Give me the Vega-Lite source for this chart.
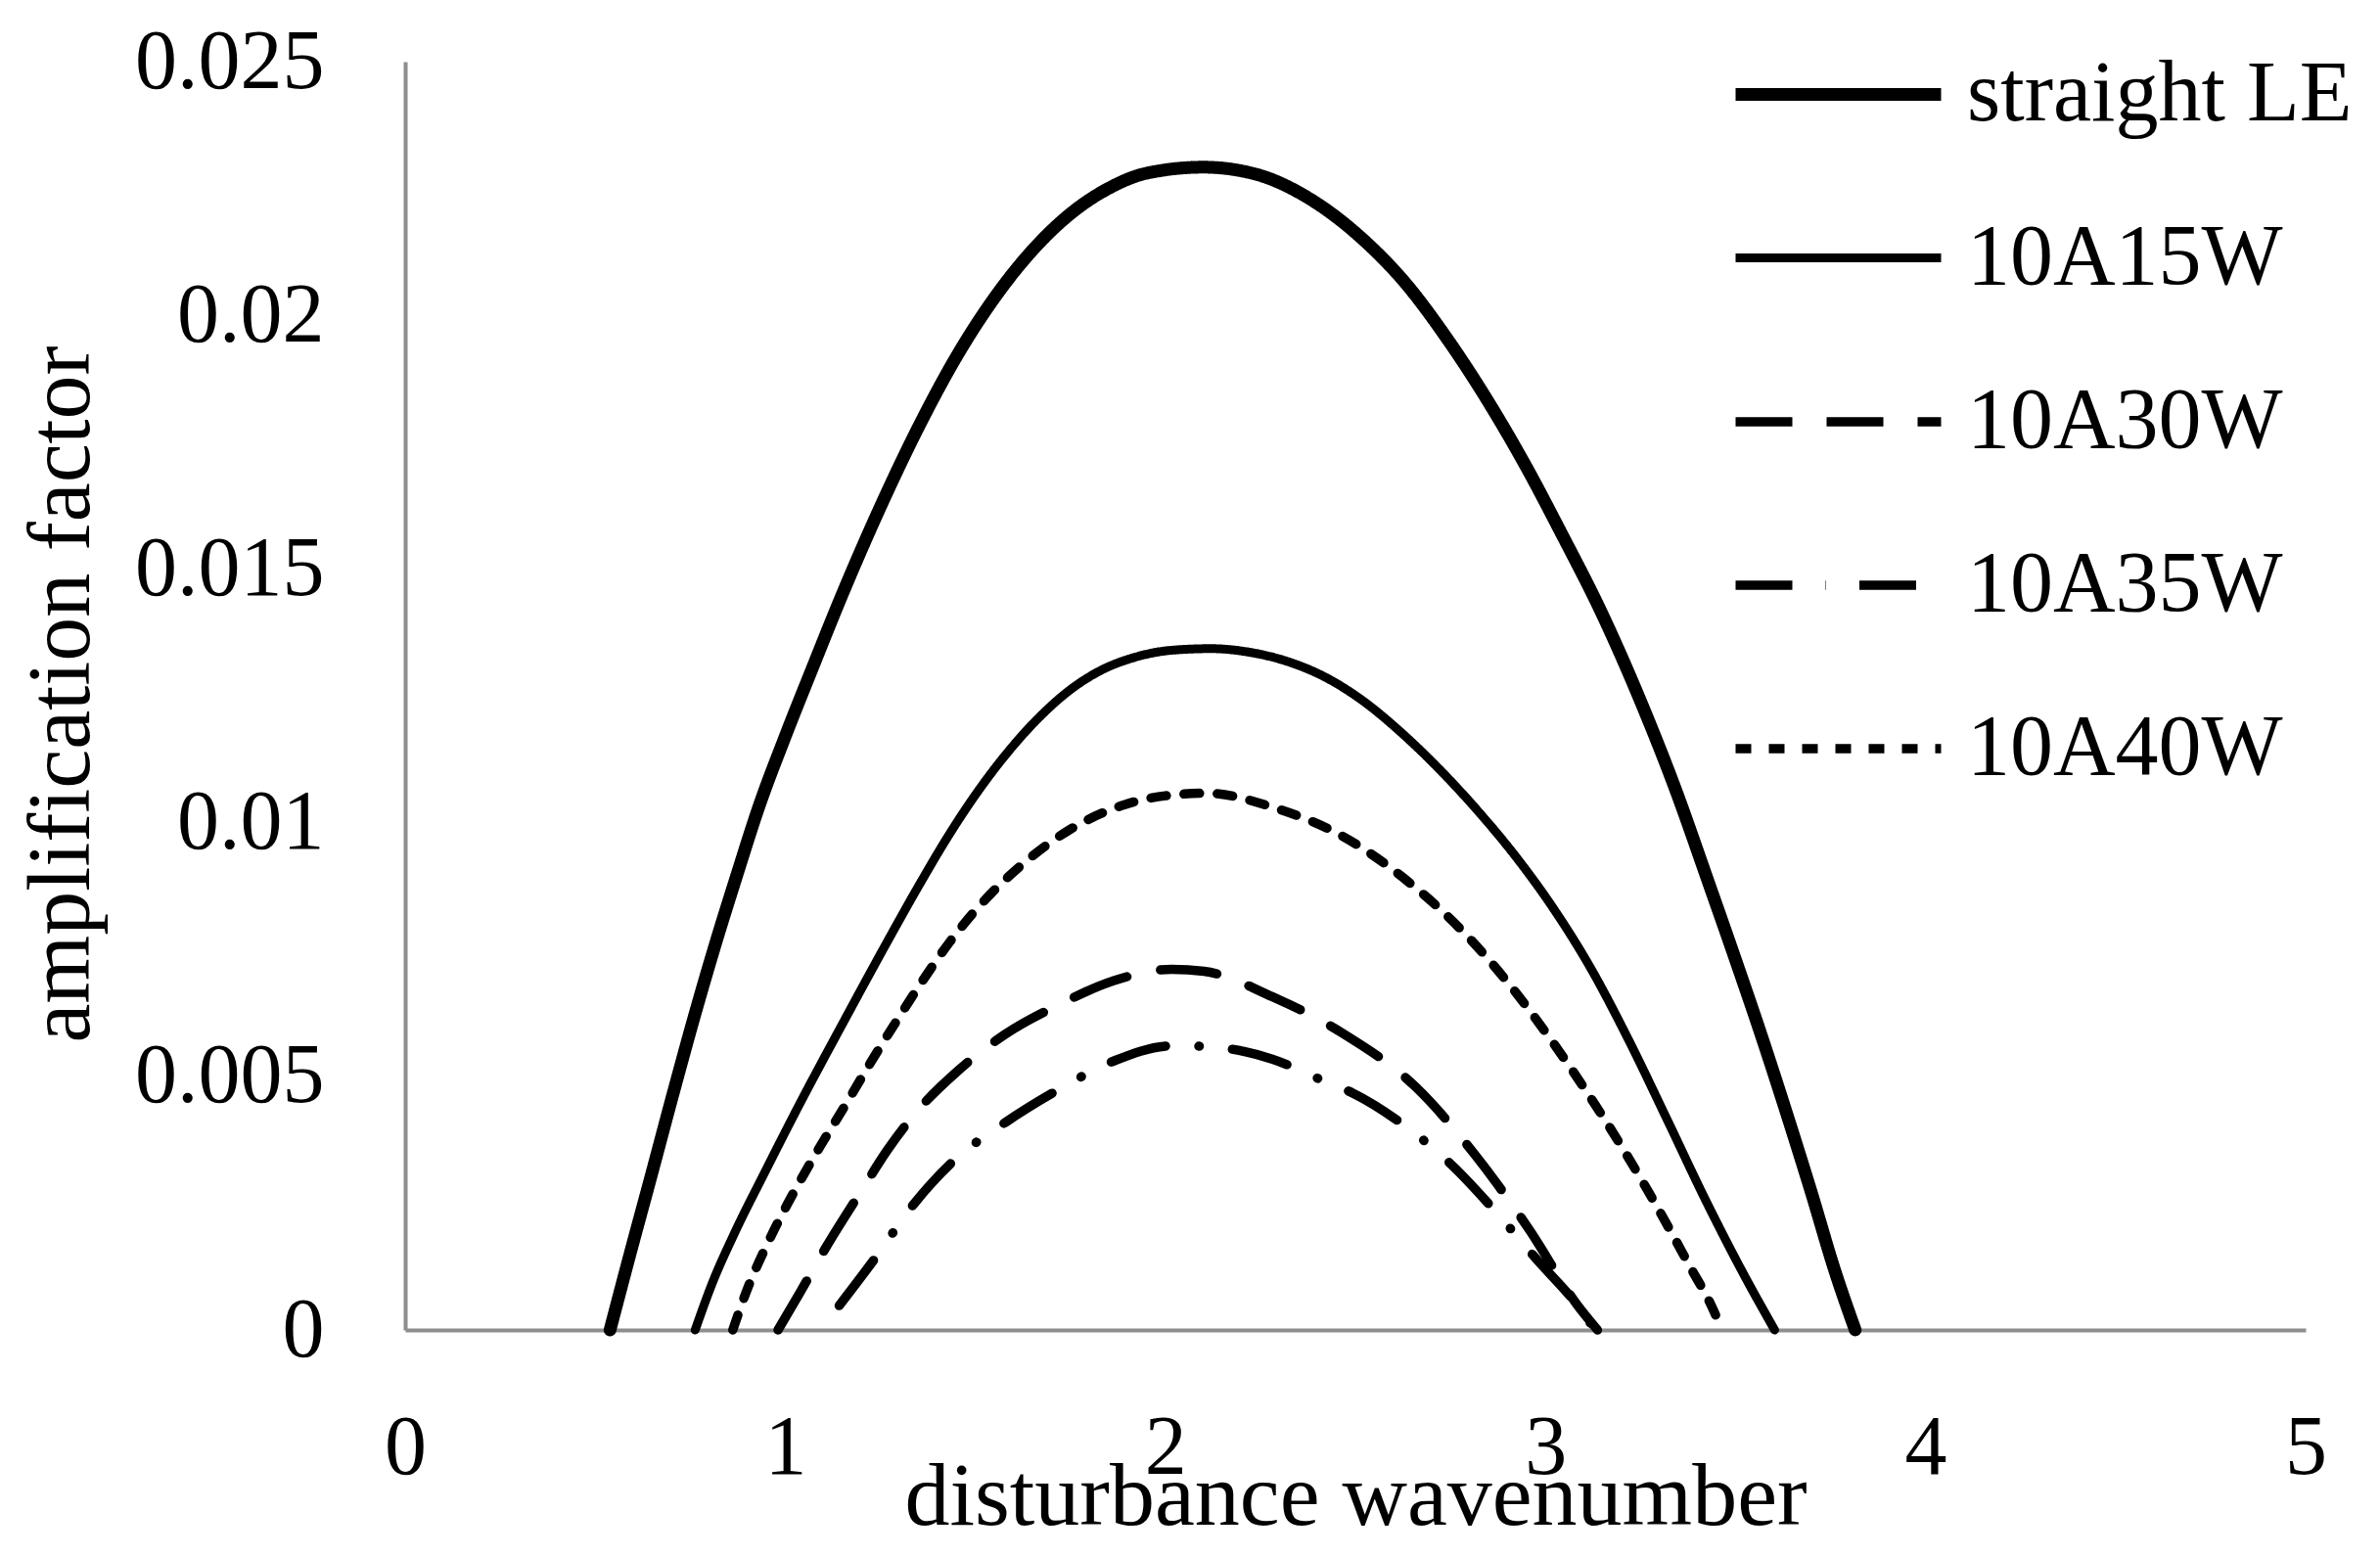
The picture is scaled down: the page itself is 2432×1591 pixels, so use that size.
{
  "$schema": "https://vega.github.io/schema/vega-lite/v6.json",
  "width": 1942,
  "height": 1296,
  "autosize": {"type": "none"},
  "padding": {"left": 414, "top": 63, "right": 76, "bottom": 232},
  "background": "white",
  "config": {
    "view": {"stroke": null},
    "font": "Liberation Serif",
    "axis": {
      "grid": false,
      "ticks": false,
      "tickSize": 0,
      "domainColor": "#8e8e8e",
      "domainWidth": 4,
      "labelFont": "Liberation Serif",
      "labelFontSize": 86,
      "labelColor": "black",
      "labelLimit": 0,
      "labelFlush": false,
      "labelOverlap": false,
      "labelBound": false,
      "titleFont": "Liberation Serif",
      "titleFontWeight": "normal",
      "titleColor": "black",
      "titleLimit": 0
    }
  },
  "data": {
    "values": [
      {"series": "straight LE", "wavenumber": 0.539, "amp": 0},
      {"series": "straight LE", "wavenumber": 0.590, "amp": 0.00145},
      {"series": "straight LE", "wavenumber": 0.648, "amp": 0.00306},
      {"series": "straight LE", "wavenumber": 0.705, "amp": 0.00466},
      {"series": "straight LE", "wavenumber": 0.763, "amp": 0.00624},
      {"series": "straight LE", "wavenumber": 0.820, "amp": 0.00770},
      {"series": "straight LE", "wavenumber": 0.872, "amp": 0.00895},
      {"series": "straight LE", "wavenumber": 0.930, "amp": 0.0103},
      {"series": "straight LE", "wavenumber": 1.000, "amp": 0.0117},
      {"series": "straight LE", "wavenumber": 1.070, "amp": 0.01302},
      {"series": "straight LE", "wavenumber": 1.150, "amp": 0.0145},
      {"series": "straight LE", "wavenumber": 1.250, "amp": 0.01622},
      {"series": "straight LE", "wavenumber": 1.350, "amp": 0.01779},
      {"series": "straight LE", "wavenumber": 1.450, "amp": 0.01918},
      {"series": "straight LE", "wavenumber": 1.550, "amp": 0.02034},
      {"series": "straight LE", "wavenumber": 1.650, "amp": 0.02128},
      {"series": "straight LE", "wavenumber": 1.750, "amp": 0.0220},
      {"series": "straight LE", "wavenumber": 1.850, "amp": 0.0225},
      {"series": "straight LE", "wavenumber": 1.950, "amp": 0.0228},
      {"series": "straight LE", "wavenumber": 2.100, "amp": 0.02292},
      {"series": "straight LE", "wavenumber": 2.239, "amp": 0.02278},
      {"series": "straight LE", "wavenumber": 2.377, "amp": 0.02231},
      {"series": "straight LE", "wavenumber": 2.515, "amp": 0.02153},
      {"series": "straight LE", "wavenumber": 2.630, "amp": 0.02065},
      {"series": "straight LE", "wavenumber": 2.745, "amp": 0.0195},
      {"series": "straight LE", "wavenumber": 2.860, "amp": 0.01817},
      {"series": "straight LE", "wavenumber": 2.952, "amp": 0.01698},
      {"series": "straight LE", "wavenumber": 3.038, "amp": 0.01576},
      {"series": "straight LE", "wavenumber": 3.150, "amp": 0.0141},
      {"series": "straight LE", "wavenumber": 3.250, "amp": 0.0124},
      {"series": "straight LE", "wavenumber": 3.340, "amp": 0.0107},
      {"series": "straight LE", "wavenumber": 3.430, "amp": 0.0088},
      {"series": "straight LE", "wavenumber": 3.500, "amp": 0.0073},
      {"series": "straight LE", "wavenumber": 3.570, "amp": 0.00576},
      {"series": "straight LE", "wavenumber": 3.640, "amp": 0.00414},
      {"series": "straight LE", "wavenumber": 3.700, "amp": 0.0027},
      {"series": "straight LE", "wavenumber": 3.760, "amp": 0.0012},
      {"series": "straight LE", "wavenumber": 3.815, "amp": 0},

      {"series": "10A15W", "wavenumber": 0.763, "amp": 0},
      {"series": "10A15W", "wavenumber": 0.809, "amp": 0.00094},
      {"series": "10A15W", "wavenumber": 0.866, "amp": 0.0019},
      {"series": "10A15W", "wavenumber": 0.947, "amp": 0.00312},
      {"series": "10A15W", "wavenumber": 1.039, "amp": 0.00447},
      {"series": "10A15W", "wavenumber": 1.154, "amp": 0.00608},
      {"series": "10A15W", "wavenumber": 1.269, "amp": 0.00766},
      {"series": "10A15W", "wavenumber": 1.350, "amp": 0.00874},
      {"series": "10A15W", "wavenumber": 1.430, "amp": 0.00975},
      {"series": "10A15W", "wavenumber": 1.510, "amp": 0.01065},
      {"series": "10A15W", "wavenumber": 1.590, "amp": 0.01143},
      {"series": "10A15W", "wavenumber": 1.670, "amp": 0.01209},
      {"series": "10A15W", "wavenumber": 1.750, "amp": 0.01262},
      {"series": "10A15W", "wavenumber": 1.830, "amp": 0.013},
      {"series": "10A15W", "wavenumber": 1.920, "amp": 0.01326},
      {"series": "10A15W", "wavenumber": 2.020, "amp": 0.0134},
      {"series": "10A15W", "wavenumber": 2.120, "amp": 0.01343},
      {"series": "10A15W", "wavenumber": 2.220, "amp": 0.01336},
      {"series": "10A15W", "wavenumber": 2.320, "amp": 0.01318},
      {"series": "10A15W", "wavenumber": 2.420, "amp": 0.01287},
      {"series": "10A15W", "wavenumber": 2.520, "amp": 0.0124},
      {"series": "10A15W", "wavenumber": 2.620, "amp": 0.01178},
      {"series": "10A15W", "wavenumber": 2.720, "amp": 0.01106},
      {"series": "10A15W", "wavenumber": 2.820, "amp": 0.01025},
      {"series": "10A15W", "wavenumber": 2.920, "amp": 0.00935},
      {"series": "10A15W", "wavenumber": 3.020, "amp": 0.00832},
      {"series": "10A15W", "wavenumber": 3.120, "amp": 0.00712},
      {"series": "10A15W", "wavenumber": 3.220, "amp": 0.0057},
      {"series": "10A15W", "wavenumber": 3.320, "amp": 0.00415},
      {"series": "10A15W", "wavenumber": 3.420, "amp": 0.00258},
      {"series": "10A15W", "wavenumber": 3.520, "amp": 0.00112},
      {"series": "10A15W", "wavenumber": 3.603, "amp": 0},

      {"series": "10A30W", "wavenumber": 0.981, "amp": 0},
      {"series": "10A30W", "wavenumber": 1.039, "amp": 0.00074},
      {"series": "10A30W", "wavenumber": 1.108, "amp": 0.00164},
      {"series": "10A30W", "wavenumber": 1.200, "amp": 0.00274},
      {"series": "10A30W", "wavenumber": 1.269, "amp": 0.00355},
      {"series": "10A30W", "wavenumber": 1.349, "amp": 0.00433},
      {"series": "10A30W", "wavenumber": 1.453, "amp": 0.0051},
      {"series": "10A30W", "wavenumber": 1.579, "amp": 0.00583},
      {"series": "10A30W", "wavenumber": 1.717, "amp": 0.0064},
      {"series": "10A30W", "wavenumber": 1.867, "amp": 0.00689},
      {"series": "10A30W", "wavenumber": 2.016, "amp": 0.00711},
      {"series": "10A30W", "wavenumber": 2.102, "amp": 0.00707},
      {"series": "10A30W", "wavenumber": 2.281, "amp": 0.00657},
      {"series": "10A30W", "wavenumber": 2.464, "amp": 0.00586},
      {"series": "10A30W", "wavenumber": 2.660, "amp": 0.00478},
      {"series": "10A30W", "wavenumber": 2.815, "amp": 0.00345},
      {"series": "10A30W", "wavenumber": 2.959, "amp": 0.00196},
      {"series": "10A30W", "wavenumber": 3.085, "amp": 0.00048},
      {"series": "10A30W", "wavenumber": 3.137, "amp": 0},

      {"series": "10A35W", "wavenumber": 1.142, "amp": 0.00048},
      {"series": "10A35W", "wavenumber": 1.234, "amp": 0.00139},
      {"series": "10A35W", "wavenumber": 1.338, "amp": 0.00248},
      {"series": "10A35W", "wavenumber": 1.441, "amp": 0.00332},
      {"series": "10A35W", "wavenumber": 1.579, "amp": 0.00409},
      {"series": "10A35W", "wavenumber": 1.717, "amp": 0.00473},
      {"series": "10A35W", "wavenumber": 1.867, "amp": 0.00531},
      {"series": "10A35W", "wavenumber": 2.016, "amp": 0.0056},
      {"series": "10A35W", "wavenumber": 2.100, "amp": 0.00559},
      {"series": "10A35W", "wavenumber": 2.281, "amp": 0.00534},
      {"series": "10A35W", "wavenumber": 2.413, "amp": 0.00492},
      {"series": "10A35W", "wavenumber": 2.493, "amp": 0.00467},
      {"series": "10A35W", "wavenumber": 2.631, "amp": 0.00402},
      {"series": "10A35W", "wavenumber": 2.758, "amp": 0.00322},
      {"series": "10A35W", "wavenumber": 2.867, "amp": 0.00235},
      {"series": "10A35W", "wavenumber": 2.976, "amp": 0.0014},
      {"series": "10A35W", "wavenumber": 3.085, "amp": 0.00048},
      {"series": "10A35W", "wavenumber": 3.131, "amp": 0},

      {"series": "10A40W", "wavenumber": 0.862, "amp": 0},
      {"series": "10A40W", "wavenumber": 0.900, "amp": 0.0008},
      {"series": "10A40W", "wavenumber": 0.950, "amp": 0.00165},
      {"series": "10A40W", "wavenumber": 1.000, "amp": 0.0024},
      {"series": "10A40W", "wavenumber": 1.050, "amp": 0.00308},
      {"series": "10A40W", "wavenumber": 1.100, "amp": 0.00372},
      {"series": "10A40W", "wavenumber": 1.154, "amp": 0.00438},
      {"series": "10A40W", "wavenumber": 1.223, "amp": 0.00525},
      {"series": "10A40W", "wavenumber": 1.292, "amp": 0.00608},
      {"series": "10A40W", "wavenumber": 1.361, "amp": 0.00688},
      {"series": "10A40W", "wavenumber": 1.430, "amp": 0.00762},
      {"series": "10A40W", "wavenumber": 1.499, "amp": 0.00826},
      {"series": "10A40W", "wavenumber": 1.568, "amp": 0.0088},
      {"series": "10A40W", "wavenumber": 1.640, "amp": 0.00928},
      {"series": "10A40W", "wavenumber": 1.746, "amp": 0.00985},
      {"series": "10A40W", "wavenumber": 1.891, "amp": 0.01035},
      {"series": "10A40W", "wavenumber": 2.000, "amp": 0.01053},
      {"series": "10A40W", "wavenumber": 2.108, "amp": 0.01058},
      {"series": "10A40W", "wavenumber": 2.288, "amp": 0.01029},
      {"series": "10A40W", "wavenumber": 2.469, "amp": 0.00972},
      {"series": "10A40W", "wavenumber": 2.625, "amp": 0.00892},
      {"series": "10A40W", "wavenumber": 2.786, "amp": 0.00783},
      {"series": "10A40W", "wavenumber": 2.901, "amp": 0.00685},
      {"series": "10A40W", "wavenumber": 3.005, "amp": 0.00582},
      {"series": "10A40W", "wavenumber": 3.108, "amp": 0.0047},
      {"series": "10A40W", "wavenumber": 3.200, "amp": 0.00362},
      {"series": "10A40W", "wavenumber": 3.269, "amp": 0.00275},
      {"series": "10A40W", "wavenumber": 3.327, "amp": 0.00198},
      {"series": "10A40W", "wavenumber": 3.384, "amp": 0.0012},
      {"series": "10A40W", "wavenumber": 3.430, "amp": 0.00058},
      {"series": "10A40W", "wavenumber": 3.465, "amp": 0}
    ]
  },
  "mark": {"type": "line", "color": "black", "strokeCap": "round", "strokeJoin": "round", "interpolate": "monotone"},
  "encoding": {
    "x": {
      "field": "wavenumber", "type": "quantitative",
      "scale": {"domain": [0, 5], "nice": false, "zero": false},
      "axis": {
        "title": "disturbance wavenumber",
        "values": [0, 1, 2, 3, 4, 5],
        "format": "d",
        "labelPadding": 78,
        "titleFontSize": 92,
        "titleBaseline": "alphabetic",
        "titleAlign": "center",
        "titleX": 971,
        "titleY": 198
      }
    },
    "y": {
      "field": "amp", "type": "quantitative",
      "scale": {"domain": [0, 0.025], "nice": false},
      "axis": {
        "title": "amplification factor",
        "values": [0, 0.005, 0.01, 0.015, 0.02, 0.025],
        "format": ".3~f",
        "labelPadding": 83,
        "titleFontSize": 90,
        "titleAngle": -90,
        "titleBaseline": "alphabetic",
        "titleAlign": "center",
        "titleX": -324,
        "titleY": 646
      }
    },
    "strokeDash": {
      "field": "series", "type": "nominal",
      "scale": {
        "domain": ["straight LE", "10A15W", "10A30W", "10A35W", "10A40W"],
        "range": [[1, 0], [1, 0], [58, 35], [58, 34, 0.5, 34], [16, 18]]
      },
      "legend": {
        "title": null, "orient": "none", "legendX": 1383, "legendY": -48,
        "symbolType": "M-1.4,0H1.4", "symbolSize": 22500, "symbolStrokeColor": "black",
        "labelFont": "Liberation Serif", "labelFontSize": 88, "labelColor": "black",
        "labelOffset": 50, "labelLimit": 0, "rowPadding": 43, "padding": 0, "symbolOffset": 0
      }
    },
    "strokeWidth": {
      "field": "series", "type": "nominal",
      "scale": {
        "type": "ordinal",
        "domain": ["straight LE", "10A15W", "10A30W", "10A35W", "10A40W"],
        "range": [13, 9, 9.5, 9.5, 9.5]
      },
      "legend": {
        "title": null, "orient": "none", "legendX": 1383, "legendY": -48,
        "symbolType": "M-1.4,0H1.4", "symbolSize": 22500, "symbolStrokeColor": "black",
        "labelFont": "Liberation Serif", "labelFontSize": 88, "labelColor": "black",
        "labelOffset": 50, "labelLimit": 0, "rowPadding": 43, "padding": 0, "symbolOffset": 0
      }
    }
  }
}
